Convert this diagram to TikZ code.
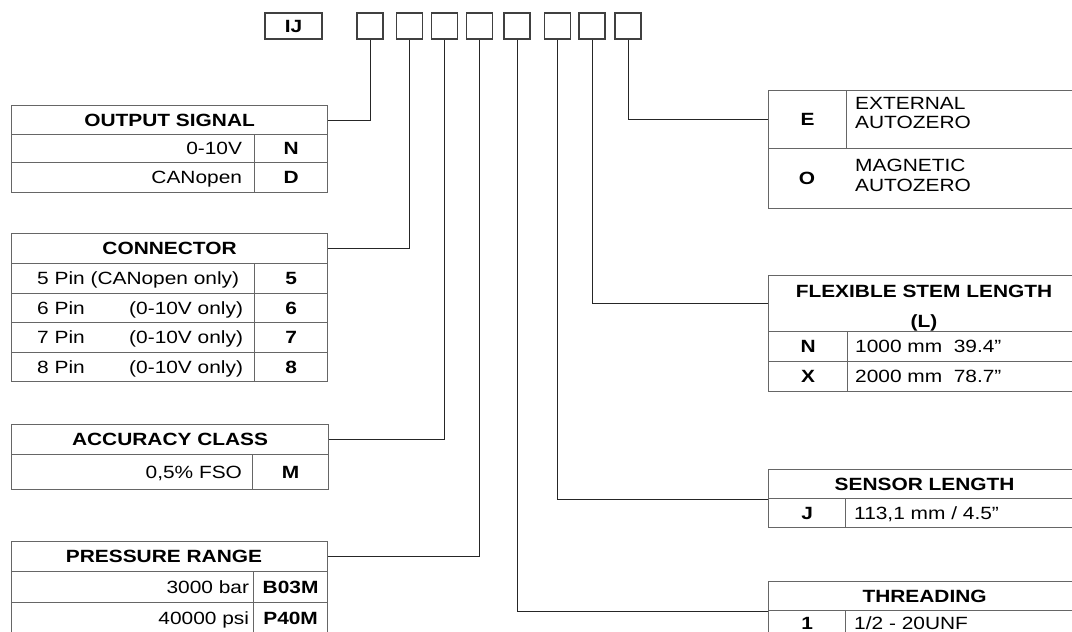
\documentclass[tikz,border=0pt]{standalone}
\usepackage{fontspec}
\setmainfont{Liberation Sans}[FakeStretch=1.18]
\usetikzlibrary{positioning}
\newcommand\fsz{\fontsize{17.7}{19.5}\selectfont}

\begin{document}
\begin{tikzpicture}[x=1pt,y=-1pt,
  every node/.style={inner sep=0pt,font=\fsz},
  cell/.style 2 args={draw=black!60,line width=1.2pt,anchor=north west,minimum width=#1pt,minimum height=#2pt},
  txt/.style={text height=12.7pt,text depth=0pt},
  bold/.style={txt,font=\fsz\bfseries},
  codebox/.style={draw=black!75,line width=1.2pt,minimum width=26pt,minimum height=26pt},
  wire/.style={black!85,line width=1pt}]
\useasboundingbox (0,0) rectangle (1072,632);
\clip (0,0) rectangle (1072,632);
\fill[white] (0,0) rectangle (1072,632);

% order code boxes
\node[codebox,font=\fsz\bfseries,minimum width=57pt] (ij) at (293.5,26) {IJ};
\foreach \x [count=\i] in {370,409.5,444.5,479.5,517,557.5,592,628}
  \node[codebox] (b\i) at (\x,26) {};

% output signal
\node[cell={316}{29},bold] (osig) at (11,105) {OUTPUT SIGNAL};
\node[cell={243}{28}] (osig-a) at (11,134) {};
\node[cell={73}{28},bold] (osig-n) at (254,134) {N};
\node[cell={243}{30}] (osig-b) at (11,162) {};
\node[cell={73}{30},bold] (osig-d) at (254,162) {D};
\node[txt,left=13pt of osig-a.east] (osig-t1) {0-10V};
\node[txt,left=13pt of osig-b.east] (osig-t2) {CANopen};

% connector
\node[cell={316}{30},bold] (conn) at (11,233) {CONNECTOR};
\foreach \y [count=\i from 5] in {263,292.5,322,351.5} {
  \node[cell={243}{29.5}] (conn-r\i) at (11,\y) {};
  \node[cell={73}{29.5},bold] (conn-c\i) at (254,\y) {\i};
}
\node[txt,right=26pt of conn-r5.west] (conn-p5) {5 Pin (CANopen only)};
\foreach \i in {6,7,8} {
  \node[txt,right=26pt of conn-r\i.west] (conn-p\i) {\i\ Pin};
  \node[txt,left=12pt of conn-r\i.east] (conn-n\i) {(0-10V only)};
}

% accuracy class
\node[cell={317}{30},bold] (acc) at (11,424) {ACCURACY CLASS};
\node[cell={241}{35}] (acc-a) at (11,454) {};
\node[cell={76}{35},bold] (acc-m) at (252,454) {M};
\node[txt,left=11pt of acc-a.east] (acc-t) {0,5\% FSO};

% pressure range
\node[cell={316}{30}] (pres) at (11,541) {};
\node[bold] (pres-h) at (164,556) {PRESSURE RANGE};
\node[cell={242}{31}] (pres-a) at (11,571) {};
\node[cell={74}{31},bold] (pres-b) at (253,571) {B03M};
\node[cell={242}{31}] (pres-c) at (11,602) {};
\node[cell={74}{31},bold] (pres-p) at (253,602) {P40M};
\node[txt,left=5pt of pres-a.east] (pres-t1) {3000 bar};
\node[txt,left=5pt of pres-c.east] (pres-t2) {40000 psi};

% autozero
\node[cell={78}{58},bold] (eo-e) at (768,90) {E};
\node[cell={234}{58}] (eo-et) at (846,90) {};
\node[cell={312}{60}] (eo-o) at (768,148) {};
\node[bold] (eo-oc) at (807,178) {O};
\node[anchor=north west,align=left] (eo-t1) at (855,97) {EXTERNAL\\AUTOZERO};
\node[anchor=north west,align=left] (eo-t2) at (855,159) {MAGNETIC\\AUTOZERO};

% flexible stem length
\node[cell={312}{56}] (flex) at (768,275) {};
\node[font=\fsz\bfseries,align=center] (flex-t) at (924,308) {FLEXIBLE STEM LENGTH\\[10.5pt](L)};
\node[cell={79}{30},bold] (flex-n) at (768,331) {N};
\node[cell={233}{30}] (flex-a) at (847,331) {};
\node[cell={79}{30},bold] (flex-x) at (768,361) {X};
\node[cell={233}{30}] (flex-b) at (847,361) {};
\node[txt,right=8pt of flex-a.west] (flex-t1) {1000 mm~~39.4”};
\node[txt,right=8pt of flex-b.west] (flex-t2) {2000 mm~~78.7”};

% sensor length
\node[cell={312}{29},bold] (sens) at (768,469) {SENSOR LENGTH};
\node[cell={77}{29},bold] (sens-j) at (768,498) {J};
\node[cell={235}{29}] (sens-a) at (845,498) {};
\node[txt,right=9pt of sens-a.west] (sens-t) {113,1 mm / 4.5”};

% threading
\node[cell={312}{29},bold] (thr) at (768,581) {THREADING};
\node[cell={77}{26},bold] (thr-1) at (768,610) {1};
\node[cell={235}{26}] (thr-a) at (845,610) {};
\node[txt,right=9pt of thr-a.west] (thr-t) {1/2 - 20UNF};

% leaders
\draw[wire] (b1.south) |- (osig.east);
\draw[wire] (b2.south) |- (conn.east);
\draw[wire] (b3.south) |- (acc.east);
\draw[wire] (b4.south) |- (pres.east);
\draw[wire] (b5.south) |- (thr.south west);
\draw[wire] (b6.south) |- (sens.south west);
\draw[wire] (b7.south) |- (flex.west);
\draw[wire] (b8.south) |- (eo-e.west);
\end{tikzpicture}
\end{document}
